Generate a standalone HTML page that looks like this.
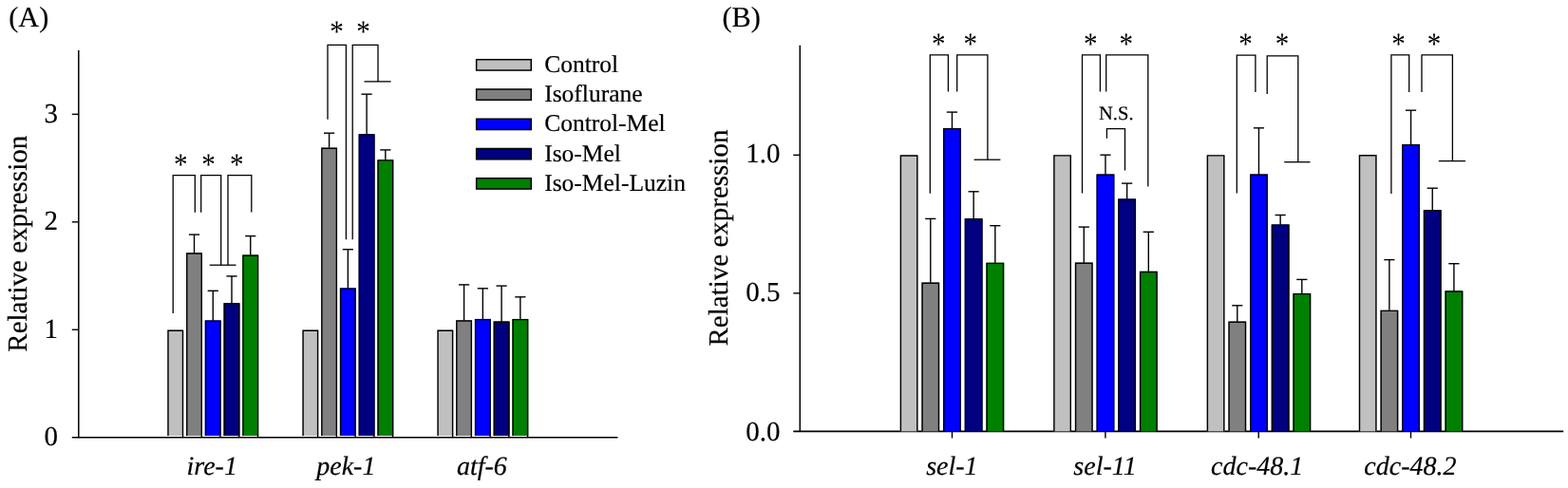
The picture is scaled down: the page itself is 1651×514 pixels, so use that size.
<!DOCTYPE html>
<html><head><meta charset="utf-8"><title>Relative expression</title>
<style>
html,body{margin:0;padding:0;background:#fff;}
body{width:1651px;height:514px;overflow:hidden;}
svg{display:block;}
text{font-family:"Liberation Serif","Times New Roman",serif;fill:#000;stroke:#000;stroke-width:0.2px;text-rendering:geometricPrecision;}
</style></head><body>
<svg width="1651" height="514" viewBox="0 0 1651 514">
<rect x="0" y="0" width="1651" height="514" fill="#fff"/>
<line x1="82.80" y1="53.00" x2="82.80" y2="461.30" stroke="#000" stroke-width="1.5"/>
<line x1="75.80" y1="460.70" x2="650.50" y2="460.70" stroke="#000" stroke-width="1.6"/>
<line x1="75.80" y1="347.25" x2="82.80" y2="347.25" stroke="#000" stroke-width="1.4"/>
<line x1="75.80" y1="233.80" x2="82.80" y2="233.80" stroke="#000" stroke-width="1.4"/>
<line x1="75.80" y1="120.35" x2="82.80" y2="120.35" stroke="#000" stroke-width="1.4"/>
<text x="61.00" y="469.30" font-size="29" text-anchor="end"  >0</text>
<text x="61.00" y="355.85" font-size="29" text-anchor="end"  >1</text>
<text x="61.00" y="242.40" font-size="29" text-anchor="end"  >2</text>
<text x="61.00" y="128.95" font-size="29" text-anchor="end"  >3</text>
<text x="28.00" y="370.70" font-size="29" text-anchor="start"  transform="rotate(-90 28 370.7)">Relative expression</text>
<text x="9.20" y="27.90" font-size="30.3" text-anchor="start"  >(A)</text>
<rect x="176.30" y="347.60" width="16.90" height="111.40" fill="#C0C0C0"/>
<polyline points="177.00,459.00 177.00,348.30 192.50,348.30 192.50,460.20" fill="none" stroke="#000" stroke-width="1.4"/>
<line x1="204.50" y1="247.10" x2="204.50" y2="267.30" stroke="#000" stroke-width="1.4"/>
<line x1="198.90" y1="247.10" x2="210.10" y2="247.10" stroke="#000" stroke-width="1.4"/>
<rect x="196.05" y="266.30" width="16.90" height="192.70" fill="#808080"/>
<polyline points="196.75,459.00 196.75,267.00 212.25,267.00 212.25,460.20" fill="none" stroke="#000" stroke-width="1.4"/>
<line x1="224.25" y1="306.30" x2="224.25" y2="338.40" stroke="#000" stroke-width="1.4"/>
<line x1="218.65" y1="306.30" x2="229.85" y2="306.30" stroke="#000" stroke-width="1.4"/>
<rect x="215.80" y="337.40" width="16.90" height="121.60" fill="#0000FF"/>
<polyline points="216.50,459.00 216.50,338.10 232.00,338.10 232.00,460.20" fill="none" stroke="#000" stroke-width="1.4"/>
<line x1="244.00" y1="290.90" x2="244.00" y2="320.20" stroke="#000" stroke-width="1.4"/>
<line x1="238.40" y1="290.90" x2="249.60" y2="290.90" stroke="#000" stroke-width="1.4"/>
<rect x="235.55" y="319.20" width="16.90" height="139.80" fill="#000080"/>
<polyline points="236.25,459.00 236.25,319.90 251.75,319.90 251.75,460.20" fill="none" stroke="#000" stroke-width="1.4"/>
<line x1="263.75" y1="248.60" x2="263.75" y2="269.50" stroke="#000" stroke-width="1.4"/>
<line x1="258.15" y1="248.60" x2="269.35" y2="248.60" stroke="#000" stroke-width="1.4"/>
<rect x="255.30" y="268.50" width="16.90" height="190.50" fill="#008000"/>
<polyline points="256.00,459.00 256.00,269.20 271.50,269.20 271.50,460.20" fill="none" stroke="#000" stroke-width="1.4"/>
<rect x="318.40" y="347.60" width="16.90" height="111.40" fill="#C0C0C0"/>
<polyline points="319.10,459.00 319.10,348.30 334.60,348.30 334.60,460.20" fill="none" stroke="#000" stroke-width="1.4"/>
<line x1="346.60" y1="140.20" x2="346.60" y2="156.60" stroke="#000" stroke-width="1.4"/>
<line x1="341.00" y1="140.20" x2="352.20" y2="140.20" stroke="#000" stroke-width="1.4"/>
<rect x="338.15" y="155.60" width="16.90" height="303.40" fill="#808080"/>
<polyline points="338.85,459.00 338.85,156.30 354.35,156.30 354.35,460.20" fill="none" stroke="#000" stroke-width="1.4"/>
<line x1="366.35" y1="262.70" x2="366.35" y2="304.40" stroke="#000" stroke-width="1.4"/>
<line x1="360.75" y1="262.70" x2="371.95" y2="262.70" stroke="#000" stroke-width="1.4"/>
<rect x="357.90" y="303.40" width="16.90" height="155.60" fill="#0000FF"/>
<polyline points="358.60,459.00 358.60,304.10 374.10,304.10 374.10,460.20" fill="none" stroke="#000" stroke-width="1.4"/>
<line x1="386.10" y1="99.20" x2="386.10" y2="142.30" stroke="#000" stroke-width="1.4"/>
<line x1="380.50" y1="99.20" x2="391.70" y2="99.20" stroke="#000" stroke-width="1.4"/>
<rect x="377.65" y="141.30" width="16.90" height="317.70" fill="#000080"/>
<polyline points="378.35,459.00 378.35,142.00 393.85,142.00 393.85,460.20" fill="none" stroke="#000" stroke-width="1.4"/>
<line x1="405.85" y1="157.90" x2="405.85" y2="169.20" stroke="#000" stroke-width="1.4"/>
<line x1="400.25" y1="157.90" x2="411.45" y2="157.90" stroke="#000" stroke-width="1.4"/>
<rect x="397.40" y="168.20" width="16.90" height="290.80" fill="#008000"/>
<polyline points="398.10,459.00 398.10,168.90 413.60,168.90 413.60,460.20" fill="none" stroke="#000" stroke-width="1.4"/>
<rect x="460.40" y="347.60" width="16.90" height="111.40" fill="#C0C0C0"/>
<polyline points="461.10,459.00 461.10,348.30 476.60,348.30 476.60,460.20" fill="none" stroke="#000" stroke-width="1.4"/>
<line x1="488.60" y1="299.90" x2="488.60" y2="338.30" stroke="#000" stroke-width="1.4"/>
<line x1="483.00" y1="299.90" x2="494.20" y2="299.90" stroke="#000" stroke-width="1.4"/>
<rect x="480.15" y="337.30" width="16.90" height="121.70" fill="#808080"/>
<polyline points="480.85,459.00 480.85,338.00 496.35,338.00 496.35,460.20" fill="none" stroke="#000" stroke-width="1.4"/>
<line x1="508.35" y1="303.80" x2="508.35" y2="336.90" stroke="#000" stroke-width="1.4"/>
<line x1="502.75" y1="303.80" x2="513.95" y2="303.80" stroke="#000" stroke-width="1.4"/>
<rect x="499.90" y="335.90" width="16.90" height="123.10" fill="#0000FF"/>
<polyline points="500.60,459.00 500.60,336.60 516.10,336.60 516.10,460.20" fill="none" stroke="#000" stroke-width="1.4"/>
<line x1="528.10" y1="301.10" x2="528.10" y2="339.50" stroke="#000" stroke-width="1.4"/>
<line x1="522.50" y1="301.10" x2="533.70" y2="301.10" stroke="#000" stroke-width="1.4"/>
<rect x="519.65" y="338.50" width="16.90" height="120.50" fill="#000080"/>
<polyline points="520.35,459.00 520.35,339.20 535.85,339.20 535.85,460.20" fill="none" stroke="#000" stroke-width="1.4"/>
<line x1="547.85" y1="312.80" x2="547.85" y2="336.90" stroke="#000" stroke-width="1.4"/>
<line x1="542.25" y1="312.80" x2="553.45" y2="312.80" stroke="#000" stroke-width="1.4"/>
<rect x="539.40" y="335.90" width="16.90" height="123.10" fill="#008000"/>
<polyline points="540.10,459.00 540.10,336.60 555.60,336.60 555.60,460.20" fill="none" stroke="#000" stroke-width="1.4"/>
<text x="223.20" y="500.00" font-size="28" text-anchor="middle" font-style="italic" >ire-1</text>
<text x="364.30" y="500.00" font-size="28" text-anchor="middle" font-style="italic" >pek-1</text>
<text x="507.40" y="500.00" font-size="28" text-anchor="middle" font-style="italic" >atf-6</text>
<polyline points="182.20,329.90 182.20,184.60 205.30,184.60 205.30,223.80" fill="none" stroke="#000" stroke-width="1.3" stroke-linejoin="miter"/>
<polyline points="211.70,223.80 211.70,184.60 232.70,184.60 232.70,279.20" fill="none" stroke="#000" stroke-width="1.3" stroke-linejoin="miter"/>
<polyline points="240.00,279.20 240.00,184.60 264.80,184.60 264.80,223.40" fill="none" stroke="#000" stroke-width="1.3" stroke-linejoin="miter"/>
<line x1="220.70" y1="279.20" x2="248.50" y2="279.20" stroke="#000" stroke-width="1.3"/>
<polyline points="345.00,125.70 345.00,47.40 364.40,47.40 364.40,252.20" fill="none" stroke="#000" stroke-width="1.3" stroke-linejoin="miter"/>
<polyline points="371.20,252.20 371.20,47.40 398.00,47.40 398.00,85.90" fill="none" stroke="#000" stroke-width="1.3" stroke-linejoin="miter"/>
<line x1="383.50" y1="85.90" x2="411.60" y2="85.90" stroke="#000" stroke-width="1.3"/>
<text transform="translate(190.30,183.70) scale(0.88,1)" x="0" y="0" font-size="33" text-anchor="middle" style="stroke-width:0">*</text>
<text transform="translate(219.60,183.70) scale(0.88,1)" x="0" y="0" font-size="33" text-anchor="middle" style="stroke-width:0">*</text>
<text transform="translate(249.20,183.70) scale(0.88,1)" x="0" y="0" font-size="33" text-anchor="middle" style="stroke-width:0">*</text>
<text transform="translate(354.40,43.50) scale(0.88,1)" x="0" y="0" font-size="33" text-anchor="middle" style="stroke-width:0">*</text>
<text transform="translate(382.40,43.50) scale(0.88,1)" x="0" y="0" font-size="33" text-anchor="middle" style="stroke-width:0">*</text>
<rect x="501.65" y="62.75" width="57.60" height="11.30" fill="#C0C0C0" stroke="#000" stroke-width="1.5"/>
<text x="573.20" y="75.70" font-size="25.5" text-anchor="start"  >Control</text>
<rect x="501.65" y="94.00" width="57.60" height="11.30" fill="#808080" stroke="#000" stroke-width="1.5"/>
<text x="573.20" y="106.98" font-size="25.5" text-anchor="start"  >Isoflurane</text>
<rect x="501.65" y="125.25" width="57.60" height="11.30" fill="#0000FF" stroke="#000" stroke-width="1.5"/>
<text x="573.20" y="138.26" font-size="25.5" text-anchor="start"  >Control-Mel</text>
<rect x="501.65" y="156.50" width="57.60" height="11.30" fill="#000080" stroke="#000" stroke-width="1.5"/>
<text x="573.20" y="169.54" font-size="25.5" text-anchor="start"  >Iso-Mel</text>
<rect x="501.65" y="187.75" width="57.60" height="11.30" fill="#008000" stroke="#000" stroke-width="1.5"/>
<text x="573.20" y="200.82" font-size="25.5" text-anchor="start"  >Iso-Mel-Luzin</text>
<line x1="842.30" y1="47.70" x2="842.30" y2="455.00" stroke="#000" stroke-width="1.5"/>
<line x1="835.30" y1="454.40" x2="1646.20" y2="454.40" stroke="#000" stroke-width="1.6"/>
<line x1="835.30" y1="308.85" x2="842.30" y2="308.85" stroke="#000" stroke-width="1.4"/>
<line x1="835.30" y1="163.30" x2="842.30" y2="163.30" stroke="#000" stroke-width="1.4"/>
<text x="821.50" y="463.60" font-size="29" text-anchor="end"  >0.0</text>
<text x="821.50" y="317.35" font-size="29" text-anchor="end"  >0.5</text>
<text x="821.50" y="170.70" font-size="29" text-anchor="end"  >1.0</text>
<text x="765.50" y="364.50" font-size="29" text-anchor="start"  transform="rotate(-90 765.5 364.5)">Relative expression</text>
<text x="760.40" y="27.90" font-size="30.3" text-anchor="start"  >(B)</text>
<rect x="947.70" y="163.30" width="18.80" height="291.10" fill="#C0C0C0"/>
<polyline points="948.40,454.40 948.40,164.00 965.80,164.00 965.80,454.40" fill="none" stroke="#000" stroke-width="1.4"/>
<line x1="979.78" y1="230.40" x2="979.78" y2="298.50" stroke="#000" stroke-width="1.4"/>
<line x1="974.18" y1="230.40" x2="985.38" y2="230.40" stroke="#000" stroke-width="1.4"/>
<rect x="970.38" y="297.50" width="18.80" height="156.90" fill="#808080"/>
<polyline points="971.08,454.40 971.08,298.20 988.48,298.20 988.48,454.40" fill="none" stroke="#000" stroke-width="1.4"/>
<line x1="1002.46" y1="118.10" x2="1002.46" y2="135.90" stroke="#000" stroke-width="1.4"/>
<line x1="996.86" y1="118.10" x2="1008.06" y2="118.10" stroke="#000" stroke-width="1.4"/>
<rect x="993.06" y="134.90" width="18.80" height="319.50" fill="#0000FF"/>
<polyline points="993.76,454.40 993.76,135.60 1011.16,135.60 1011.16,454.40" fill="none" stroke="#000" stroke-width="1.4"/>
<line x1="1025.14" y1="201.80" x2="1025.14" y2="231.00" stroke="#000" stroke-width="1.4"/>
<line x1="1019.54" y1="201.80" x2="1030.74" y2="201.80" stroke="#000" stroke-width="1.4"/>
<rect x="1015.74" y="230.00" width="18.80" height="224.40" fill="#000080"/>
<polyline points="1016.44,454.40 1016.44,230.70 1033.84,230.70 1033.84,454.40" fill="none" stroke="#000" stroke-width="1.4"/>
<line x1="1047.82" y1="237.70" x2="1047.82" y2="277.70" stroke="#000" stroke-width="1.4"/>
<line x1="1042.22" y1="237.70" x2="1053.42" y2="237.70" stroke="#000" stroke-width="1.4"/>
<rect x="1038.42" y="276.70" width="18.80" height="177.70" fill="#008000"/>
<polyline points="1039.12,454.40 1039.12,277.40 1056.52,277.40 1056.52,454.40" fill="none" stroke="#000" stroke-width="1.4"/>
<rect x="1109.20" y="163.20" width="18.80" height="291.20" fill="#C0C0C0"/>
<polyline points="1109.90,454.40 1109.90,163.90 1127.30,163.90 1127.30,454.40" fill="none" stroke="#000" stroke-width="1.4"/>
<line x1="1141.28" y1="239.10" x2="1141.28" y2="277.50" stroke="#000" stroke-width="1.4"/>
<line x1="1135.68" y1="239.10" x2="1146.88" y2="239.10" stroke="#000" stroke-width="1.4"/>
<rect x="1131.88" y="276.50" width="18.80" height="177.90" fill="#808080"/>
<polyline points="1132.58,454.40 1132.58,277.20 1149.98,277.20 1149.98,454.40" fill="none" stroke="#000" stroke-width="1.4"/>
<line x1="1163.96" y1="163.20" x2="1163.96" y2="184.50" stroke="#000" stroke-width="1.4"/>
<line x1="1158.36" y1="163.20" x2="1169.56" y2="163.20" stroke="#000" stroke-width="1.4"/>
<rect x="1154.56" y="183.50" width="18.80" height="270.90" fill="#0000FF"/>
<polyline points="1155.26,454.40 1155.26,184.20 1172.66,184.20 1172.66,454.40" fill="none" stroke="#000" stroke-width="1.4"/>
<line x1="1186.64" y1="193.10" x2="1186.64" y2="210.40" stroke="#000" stroke-width="1.4"/>
<line x1="1181.04" y1="193.10" x2="1192.24" y2="193.10" stroke="#000" stroke-width="1.4"/>
<rect x="1177.24" y="209.40" width="18.80" height="245.00" fill="#000080"/>
<polyline points="1177.94,454.40 1177.94,210.10 1195.34,210.10 1195.34,454.40" fill="none" stroke="#000" stroke-width="1.4"/>
<line x1="1209.32" y1="244.30" x2="1209.32" y2="286.80" stroke="#000" stroke-width="1.4"/>
<line x1="1203.72" y1="244.30" x2="1214.92" y2="244.30" stroke="#000" stroke-width="1.4"/>
<rect x="1199.92" y="285.80" width="18.80" height="168.60" fill="#008000"/>
<polyline points="1200.62,454.40 1200.62,286.50 1218.02,286.50 1218.02,454.40" fill="none" stroke="#000" stroke-width="1.4"/>
<rect x="1270.70" y="163.20" width="18.80" height="291.20" fill="#C0C0C0"/>
<polyline points="1271.40,454.40 1271.40,163.90 1288.80,163.90 1288.80,454.40" fill="none" stroke="#000" stroke-width="1.4"/>
<line x1="1302.78" y1="321.80" x2="1302.78" y2="339.60" stroke="#000" stroke-width="1.4"/>
<line x1="1297.18" y1="321.80" x2="1308.38" y2="321.80" stroke="#000" stroke-width="1.4"/>
<rect x="1293.38" y="338.60" width="18.80" height="115.80" fill="#808080"/>
<polyline points="1294.08,454.40 1294.08,339.30 1311.48,339.30 1311.48,454.40" fill="none" stroke="#000" stroke-width="1.4"/>
<line x1="1325.46" y1="134.80" x2="1325.46" y2="184.50" stroke="#000" stroke-width="1.4"/>
<line x1="1319.86" y1="134.80" x2="1331.06" y2="134.80" stroke="#000" stroke-width="1.4"/>
<rect x="1316.06" y="183.50" width="18.80" height="270.90" fill="#0000FF"/>
<polyline points="1316.76,454.40 1316.76,184.20 1334.16,184.20 1334.16,454.40" fill="none" stroke="#000" stroke-width="1.4"/>
<line x1="1348.14" y1="226.50" x2="1348.14" y2="237.40" stroke="#000" stroke-width="1.4"/>
<line x1="1342.54" y1="226.50" x2="1353.74" y2="226.50" stroke="#000" stroke-width="1.4"/>
<rect x="1338.74" y="236.40" width="18.80" height="218.00" fill="#000080"/>
<polyline points="1339.44,454.40 1339.44,237.10 1356.84,237.10 1356.84,454.40" fill="none" stroke="#000" stroke-width="1.4"/>
<line x1="1370.82" y1="294.40" x2="1370.82" y2="309.90" stroke="#000" stroke-width="1.4"/>
<line x1="1365.22" y1="294.40" x2="1376.42" y2="294.40" stroke="#000" stroke-width="1.4"/>
<rect x="1361.42" y="308.90" width="18.80" height="145.50" fill="#008000"/>
<polyline points="1362.12,454.40 1362.12,309.60 1379.52,309.60 1379.52,454.40" fill="none" stroke="#000" stroke-width="1.4"/>
<rect x="1430.80" y="163.00" width="18.80" height="291.40" fill="#C0C0C0"/>
<polyline points="1431.50,454.40 1431.50,163.70 1448.90,163.70 1448.90,454.40" fill="none" stroke="#000" stroke-width="1.4"/>
<line x1="1462.88" y1="273.60" x2="1462.88" y2="327.70" stroke="#000" stroke-width="1.4"/>
<line x1="1457.28" y1="273.60" x2="1468.48" y2="273.60" stroke="#000" stroke-width="1.4"/>
<rect x="1453.48" y="326.70" width="18.80" height="127.70" fill="#808080"/>
<polyline points="1454.18,454.40 1454.18,327.40 1471.58,327.40 1471.58,454.40" fill="none" stroke="#000" stroke-width="1.4"/>
<line x1="1485.56" y1="116.20" x2="1485.56" y2="152.90" stroke="#000" stroke-width="1.4"/>
<line x1="1479.96" y1="116.20" x2="1491.16" y2="116.20" stroke="#000" stroke-width="1.4"/>
<rect x="1476.16" y="151.90" width="18.80" height="302.50" fill="#0000FF"/>
<polyline points="1476.86,454.40 1476.86,152.60 1494.26,152.60 1494.26,454.40" fill="none" stroke="#000" stroke-width="1.4"/>
<line x1="1508.24" y1="198.20" x2="1508.24" y2="222.10" stroke="#000" stroke-width="1.4"/>
<line x1="1502.64" y1="198.20" x2="1513.84" y2="198.20" stroke="#000" stroke-width="1.4"/>
<rect x="1498.84" y="221.10" width="18.80" height="233.30" fill="#000080"/>
<polyline points="1499.54,454.40 1499.54,221.80 1516.94,221.80 1516.94,454.40" fill="none" stroke="#000" stroke-width="1.4"/>
<line x1="1530.92" y1="277.70" x2="1530.92" y2="307.30" stroke="#000" stroke-width="1.4"/>
<line x1="1525.32" y1="277.70" x2="1536.52" y2="277.70" stroke="#000" stroke-width="1.4"/>
<rect x="1521.52" y="306.30" width="18.80" height="148.10" fill="#008000"/>
<polyline points="1522.22,454.40 1522.22,307.00 1539.62,307.00 1539.62,454.40" fill="none" stroke="#000" stroke-width="1.4"/>
<line x1="1002.50" y1="454.40" x2="1002.50" y2="461.50" stroke="#000" stroke-width="1.4"/>
<text x="1002.35" y="500.00" font-size="28" text-anchor="middle" font-style="italic" >sel-1</text>
<line x1="1163.90" y1="454.40" x2="1163.90" y2="461.50" stroke="#000" stroke-width="1.4"/>
<text x="1163.50" y="500.00" font-size="28" text-anchor="middle" font-style="italic" >sel-11</text>
<line x1="1325.20" y1="454.40" x2="1325.20" y2="461.50" stroke="#000" stroke-width="1.4"/>
<text x="1323.70" y="500.00" font-size="28" text-anchor="middle" font-style="italic" >cdc-48.1</text>
<line x1="1485.50" y1="454.40" x2="1485.50" y2="461.50" stroke="#000" stroke-width="1.4"/>
<text x="1484.90" y="500.00" font-size="28" text-anchor="middle" font-style="italic" >cdc-48.2</text>
<polyline points="979.30,203.80 979.30,57.80 998.40,57.80 998.40,96.60" fill="none" stroke="#000" stroke-width="1.3" stroke-linejoin="miter"/>
<polyline points="1007.70,96.60 1007.70,57.80 1039.90,57.80 1039.90,168.20" fill="none" stroke="#000" stroke-width="1.3" stroke-linejoin="miter"/>
<line x1="1025.60" y1="168.20" x2="1053.40" y2="168.20" stroke="#000" stroke-width="1.3"/>
<polyline points="1139.50,203.60 1139.50,57.80 1158.40,57.80 1158.40,96.60" fill="none" stroke="#000" stroke-width="1.3" stroke-linejoin="miter"/>
<polyline points="1164.70,96.60 1164.70,57.80 1208.80,57.80 1208.80,196.60" fill="none" stroke="#000" stroke-width="1.3" stroke-linejoin="miter"/>
<polyline points="1165.40,145.70 1165.40,135.60 1184.50,135.60 1184.50,179.50" fill="none" stroke="#000" stroke-width="1.3" stroke-linejoin="miter"/>
<text x="1175.30" y="126.20" font-size="20.5" text-anchor="middle"  >N.S.</text>
<polyline points="1302.30,203.60 1302.30,58.20 1321.90,58.20 1321.90,97.00" fill="none" stroke="#000" stroke-width="1.3" stroke-linejoin="miter"/>
<polyline points="1334.20,98.90 1334.20,58.80 1366.80,58.80 1366.80,170.70" fill="none" stroke="#000" stroke-width="1.3" stroke-linejoin="miter"/>
<line x1="1352.20" y1="170.70" x2="1379.50" y2="170.70" stroke="#000" stroke-width="1.3"/>
<polyline points="1464.90,203.90 1464.90,57.80 1483.70,57.80 1483.70,97.00" fill="none" stroke="#000" stroke-width="1.3" stroke-linejoin="miter"/>
<polyline points="1497.00,97.00 1497.00,57.80 1529.40,57.80 1529.40,169.60" fill="none" stroke="#000" stroke-width="1.3" stroke-linejoin="miter"/>
<line x1="1514.80" y1="169.60" x2="1543.10" y2="169.60" stroke="#000" stroke-width="1.3"/>
<text transform="translate(988.30,57.00) scale(0.88,1)" x="0" y="0" font-size="33" text-anchor="middle" style="stroke-width:0">*</text>
<text transform="translate(1021.70,57.00) scale(0.88,1)" x="0" y="0" font-size="33" text-anchor="middle" style="stroke-width:0">*</text>
<text transform="translate(1148.30,57.00) scale(0.88,1)" x="0" y="0" font-size="33" text-anchor="middle" style="stroke-width:0">*</text>
<text transform="translate(1185.70,57.00) scale(0.88,1)" x="0" y="0" font-size="33" text-anchor="middle" style="stroke-width:0">*</text>
<text transform="translate(1311.40,57.00) scale(0.88,1)" x="0" y="0" font-size="33" text-anchor="middle" style="stroke-width:0">*</text>
<text transform="translate(1349.90,57.00) scale(0.88,1)" x="0" y="0" font-size="33" text-anchor="middle" style="stroke-width:0">*</text>
<text transform="translate(1472.50,57.00) scale(0.88,1)" x="0" y="0" font-size="33" text-anchor="middle" style="stroke-width:0">*</text>
<text transform="translate(1509.90,57.00) scale(0.88,1)" x="0" y="0" font-size="33" text-anchor="middle" style="stroke-width:0">*</text>
</svg>
</body></html>
